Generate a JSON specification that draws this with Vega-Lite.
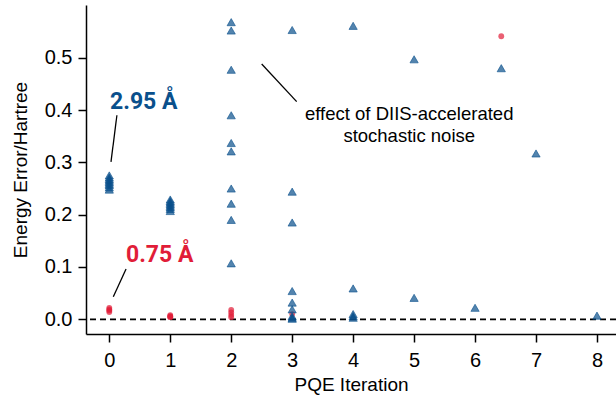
{
  "$schema": "https://vega.github.io/schema/vega-lite/v6.json",
  "width": 530,
  "height": 329,
  "autosize": {"type": "none"},
  "padding": {"left": 86, "top": 5, "right": 0, "bottom": 64},
  "background": "white",
  "config": {
    "view": {"stroke": null},
    "font": "Liberation Sans",
    "axis": {
      "grid": false,
      "domainColor": "black",
      "domainWidth": 1.5,
      "tickColor": "black",
      "tickWidth": 1.5,
      "tickSize": 8,
      "labelFont": "Liberation Sans",
      "labelFontSize": 20,
      "labelColor": "black",
      "titleFont": "Liberation Sans",
      "titleFontSize": 19,
      "titleFontWeight": "normal",
      "titleColor": "black"
    }
  },
  "datasets": {
    "points": [
      {"iter": 0, "err": 0.014, "bond": "0.75 \u00c5"},
      {"iter": 0, "err": 0.017, "bond": "0.75 \u00c5"},
      {"iter": 0, "err": 0.019, "bond": "0.75 \u00c5"},
      {"iter": 0, "err": 0.022, "bond": "0.75 \u00c5"},
      {"iter": 1, "err": 0.004, "bond": "0.75 \u00c5"},
      {"iter": 1, "err": 0.005, "bond": "0.75 \u00c5"},
      {"iter": 1, "err": 0.006, "bond": "0.75 \u00c5"},
      {"iter": 1, "err": 0.008, "bond": "0.75 \u00c5"},
      {"iter": 2, "err": 0.004, "bond": "0.75 \u00c5"},
      {"iter": 2, "err": 0.008, "bond": "0.75 \u00c5"},
      {"iter": 2, "err": 0.013, "bond": "0.75 \u00c5"},
      {"iter": 2, "err": 0.018, "bond": "0.75 \u00c5"},
      {"iter": 3, "err": 0.010, "bond": "0.75 \u00c5"},
      {"iter": 6.43, "err": 0.541, "bond": "0.75 \u00c5"},
      {"iter": 0, "err": 0.248, "bond": "2.95 \u00c5"},
      {"iter": 0, "err": 0.252, "bond": "2.95 \u00c5"},
      {"iter": 0, "err": 0.256, "bond": "2.95 \u00c5"},
      {"iter": 0, "err": 0.259, "bond": "2.95 \u00c5"},
      {"iter": 0, "err": 0.262, "bond": "2.95 \u00c5"},
      {"iter": 0, "err": 0.265, "bond": "2.95 \u00c5"},
      {"iter": 0, "err": 0.268, "bond": "2.95 \u00c5"},
      {"iter": 0, "err": 0.271, "bond": "2.95 \u00c5"},
      {"iter": 0, "err": 0.275, "bond": "2.95 \u00c5"},
      {"iter": 1, "err": 0.207, "bond": "2.95 \u00c5"},
      {"iter": 1, "err": 0.211, "bond": "2.95 \u00c5"},
      {"iter": 1, "err": 0.214, "bond": "2.95 \u00c5"},
      {"iter": 1, "err": 0.217, "bond": "2.95 \u00c5"},
      {"iter": 1, "err": 0.220, "bond": "2.95 \u00c5"},
      {"iter": 1, "err": 0.223, "bond": "2.95 \u00c5"},
      {"iter": 1, "err": 0.226, "bond": "2.95 \u00c5"},
      {"iter": 1, "err": 0.229, "bond": "2.95 \u00c5"},
      {"iter": 2, "err": 0.568, "bond": "2.95 \u00c5"},
      {"iter": 2, "err": 0.552, "bond": "2.95 \u00c5"},
      {"iter": 2, "err": 0.477, "bond": "2.95 \u00c5"},
      {"iter": 2, "err": 0.390, "bond": "2.95 \u00c5"},
      {"iter": 2, "err": 0.337, "bond": "2.95 \u00c5"},
      {"iter": 2, "err": 0.321, "bond": "2.95 \u00c5"},
      {"iter": 2, "err": 0.250, "bond": "2.95 \u00c5"},
      {"iter": 2, "err": 0.221, "bond": "2.95 \u00c5"},
      {"iter": 2, "err": 0.190, "bond": "2.95 \u00c5"},
      {"iter": 2, "err": 0.107, "bond": "2.95 \u00c5"},
      {"iter": 3, "err": 0.553, "bond": "2.95 \u00c5"},
      {"iter": 3, "err": 0.244, "bond": "2.95 \u00c5"},
      {"iter": 3, "err": 0.185, "bond": "2.95 \u00c5"},
      {"iter": 3, "err": 0.054, "bond": "2.95 \u00c5"},
      {"iter": 3, "err": 0.032, "bond": "2.95 \u00c5"},
      {"iter": 3, "err": 0.019, "bond": "2.95 \u00c5"},
      {"iter": 3, "err": 0.006, "bond": "2.95 \u00c5"},
      {"iter": 3, "err": 0.003, "bond": "2.95 \u00c5"},
      {"iter": 3, "err": 0.001, "bond": "2.95 \u00c5"},
      {"iter": 4, "err": 0.561, "bond": "2.95 \u00c5"},
      {"iter": 4, "err": 0.059, "bond": "2.95 \u00c5"},
      {"iter": 4, "err": 0.010, "bond": "2.95 \u00c5"},
      {"iter": 4, "err": 0.006, "bond": "2.95 \u00c5"},
      {"iter": 4, "err": 0.003, "bond": "2.95 \u00c5"},
      {"iter": 5, "err": 0.497, "bond": "2.95 \u00c5"},
      {"iter": 5, "err": 0.041, "bond": "2.95 \u00c5"},
      {"iter": 6, "err": 0.022, "bond": "2.95 \u00c5"},
      {"iter": 6.43, "err": 0.480, "bond": "2.95 \u00c5"},
      {"iter": 7, "err": 0.317, "bond": "2.95 \u00c5"},
      {"iter": 8, "err": 0.007, "bond": "2.95 \u00c5"}
    ],
    "one": [{}]
  },
  "layer": [
    {
      "data": {"name": "one"},
      "mark": {"type": "rule", "color": "black", "strokeWidth": 1.8, "strokeDash": [6, 4]},
      "encoding": {"y": {"datum": 0, "type": "quantitative"}}
    },
    {
      "data": {"name": "points"},
      "transform": [{"filter": "datum.bond === '0.75 \u00c5'"}],
      "mark": {"type": "point", "shape": "circle", "filled": true, "size": 34, "color": "#e11d38", "fillOpacity": 0.7, "strokeWidth": 0},
      "encoding": {
        "x": {
          "field": "iter", "type": "quantitative",
          "scale": {"domain": [-0.382, 8.312], "nice": false, "zero": false},
          "axis": {"values": [0, 1, 2, 3, 4, 5, 6, 7, 8], "format": "d", "title": "PQE Iteration", "labelPadding": 8, "titlePadding": 5, "labelFlush": false}
        },
        "y": {
          "field": "err", "type": "quantitative",
          "scale": {"domain": [-0.0281, 0.6008], "nice": false, "zero": false},
          "axis": {"values": [0, 0.1, 0.2, 0.3, 0.4, 0.5], "format": ".1f", "title": "Energy Error/Hartree", "labelPadding": 6, "titlePadding": 14, "labelFlush": false}
        }
      }
    },
    {
      "data": {"name": "points"},
      "transform": [{"filter": "datum.bond === '2.95 \u00c5'"}],
      "mark": {"type": "point", "shape": "triangle-up", "filled": true, "size": 68, "color": "#0a508c", "fillOpacity": 0.7, "stroke": "#0a508c", "strokeOpacity": 0.6, "strokeWidth": 1},
      "encoding": {
        "x": {"field": "iter", "type": "quantitative"},
        "y": {"field": "err", "type": "quantitative"}
      }
    },
    {
      "data": {"name": "one"},
      "mark": {"type": "rule", "color": "black", "strokeWidth": 1.3},
      "encoding": {
        "x": {"datum": 0.028, "type": "quantitative"},
        "y": {"datum": 0.301, "type": "quantitative"},
        "x2": {"datum": 0.125},
        "y2": {"datum": 0.39}
      }
    },
    {
      "data": {"name": "one"},
      "mark": {"type": "rule", "color": "black", "strokeWidth": 1.3},
      "encoding": {
        "x": {"datum": 0.066, "type": "quantitative"},
        "y": {"datum": 0.043, "type": "quantitative"},
        "x2": {"datum": 0.275},
        "y2": {"datum": 0.096}
      }
    },
    {
      "data": {"name": "one"},
      "mark": {"type": "rule", "color": "black", "strokeWidth": 1.3},
      "encoding": {
        "x": {"datum": 2.50, "type": "quantitative"},
        "y": {"datum": 0.488, "type": "quantitative"},
        "x2": {"datum": 3.074},
        "y2": {"datum": 0.416}
      }
    },
    {
      "data": {"name": "one"},
      "mark": {"type": "text", "text": "2.95 \u00c5", "font": "Roboto", "fontSize": 23, "fontWeight": "bold", "color": "#0a508c", "align": "left", "baseline": "alphabetic"},
      "encoding": {
        "x": {"datum": 0.012, "type": "quantitative"},
        "y": {"datum": 0.402, "type": "quantitative"}
      }
    },
    {
      "data": {"name": "one"},
      "mark": {"type": "text", "text": "0.75 \u00c5", "font": "Roboto", "fontSize": 23, "fontWeight": "bold", "color": "#e11d38", "align": "left", "baseline": "alphabetic"},
      "encoding": {
        "x": {"datum": 0.274, "type": "quantitative"},
        "y": {"datum": 0.110, "type": "quantitative"}
      }
    },
    {
      "data": {"name": "one"},
      "mark": {"type": "text", "text": ["effect of DIIS-accelerated", "stochastic noise"], "font": "Liberation Sans", "fontSize": 18.5, "lineHeight": 22, "color": "black", "align": "center", "baseline": "alphabetic"},
      "encoding": {
        "x": {"datum": 4.92, "type": "quantitative"},
        "y": {"datum": 0.381, "type": "quantitative"}
      }
    }
  ]
}
